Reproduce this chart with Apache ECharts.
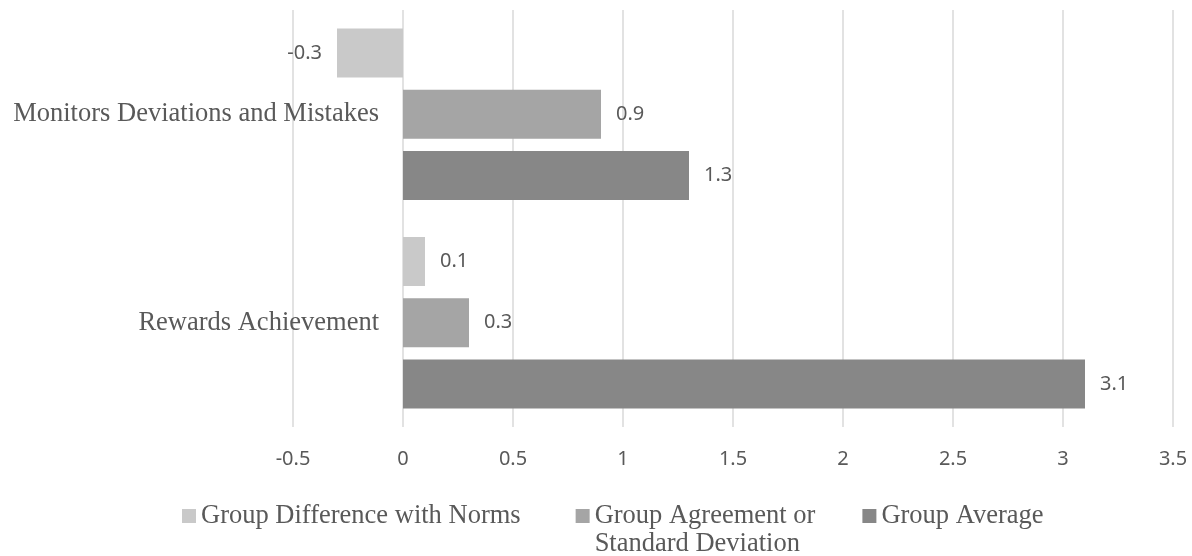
<!DOCTYPE html>
<html>
<head>
<meta charset="utf-8">
<title>chart</title>
<script src="https://cdn.jsdelivr.net/npm/echarts@6/dist/echarts.min.js"></script>
<style>
html,body{margin:0;padding:0;background:#fff;}
#main{width:1192px;height:556px;}
</style>
</head>
<body>
<div id="main"></div>
<script>
// categories, bottom to top
var categories=['Rewards Achievement','Monitors Deviations and Mistakes'];
var seriesNames=['Group Difference with Norms','Group Agreement or\nStandard Deviation','Group Average'];
var diffNorms=[0.1,-0.3];
var agreement=[0.3,0.9];
var average=[3.1,1.3];
var xTicks=[-0.5,3.5,0.5];//min,max,interval
var colors=['#c9c9c9','#a5a5a5','#878787'];

var serifFont='"Liberation Serif","Times New Roman",serif';
var sansFont='"Noto Sans","Open Sans",sans-serif';
var textColor='#595959';
var gridColor='#d9d9d9';

var gridLeft=293;
var gridRight=19;
// pixel distance from the grid's left edge to x=0, so the category axis sits on zero
var zeroShift=(0-xTicks[0])/(xTicks[1]-xTicks[0])*(1192-gridLeft-gridRight);

// negative value -> label on the left
function toData(arr){
    var out=[];
    for(var i=0;i<arr.length;i++){
        if(arr[i]<0){
            out.push({value:arr[i],label:{position:'left'}});
        }else{
            out.push(arr[i]);
        }
    }
    return out;
}

var valueLists=[diffNorms,agreement,average];
var series=[];
for(var i=0;i<valueLists.length;i++){
    series.push({
        name:seriesNames[i],
        type:'bar',
        barWidth:49,
        barGap:'25%',
        itemStyle:{color:colors[i]},
        label:{
            show:true,
            position:'right',
            distance:15,
            color:textColor,
            fontFamily:sansFont,
            fontSize:20
        },
        data:toData(valueLists[i])
    });
}

var myChart=echarts.init(document.getElementById('main'));
var option={
    animation:false,
    grid:{
        left:gridLeft,
        right:gridRight,
        top:10,
        bottom:129,
        containLabel:false,
        outerBoundsMode:'none'
    },
    legend:{
        top:474,
        left:182,
        padding:0,
        itemWidth:14,
        itemHeight:14,
        itemGap:47,
        icon:'rect',
        textStyle:{
            color:textColor,
            fontFamily:serifFont,
            fontSize:26.5,
            lineHeight:28
        },
        // empty first line keeps the first text line level with the icon
        formatter:function(name){
            if(name.indexOf('\n')>=0){
                return '\n'+name;
            }
            return name;
        },
        data:[
            {name:seriesNames[0],textStyle:{padding:[0,8,0,0]}},
            {name:seriesNames[1]},
            {name:seriesNames[2]}
        ]
    },
    xAxis:{
        type:'value',
        min:xTicks[0],
        max:xTicks[1],
        interval:xTicks[2],
        axisLine:{show:false},
        axisTick:{show:false},
        splitLine:{lineStyle:{color:gridColor,width:1.5}},
        axisLabel:{
            color:textColor,
            fontFamily:sansFont,
            fontSize:20,
            margin:22
        }
    },
    yAxis:{
        type:'category',
        data:categories,
        offset:-zeroShift,
        axisLine:{show:false,onZero:false},
        axisTick:{show:false},
        axisLabel:{
            color:textColor,
            fontFamily:serifFont,
            fontSize:26.5,
            margin:24,
            padding:[6,0,0,0],
            overflow:'none'
        }
    },
    series:series
};
myChart.setOption(option);
</script>
</body>
</html>
